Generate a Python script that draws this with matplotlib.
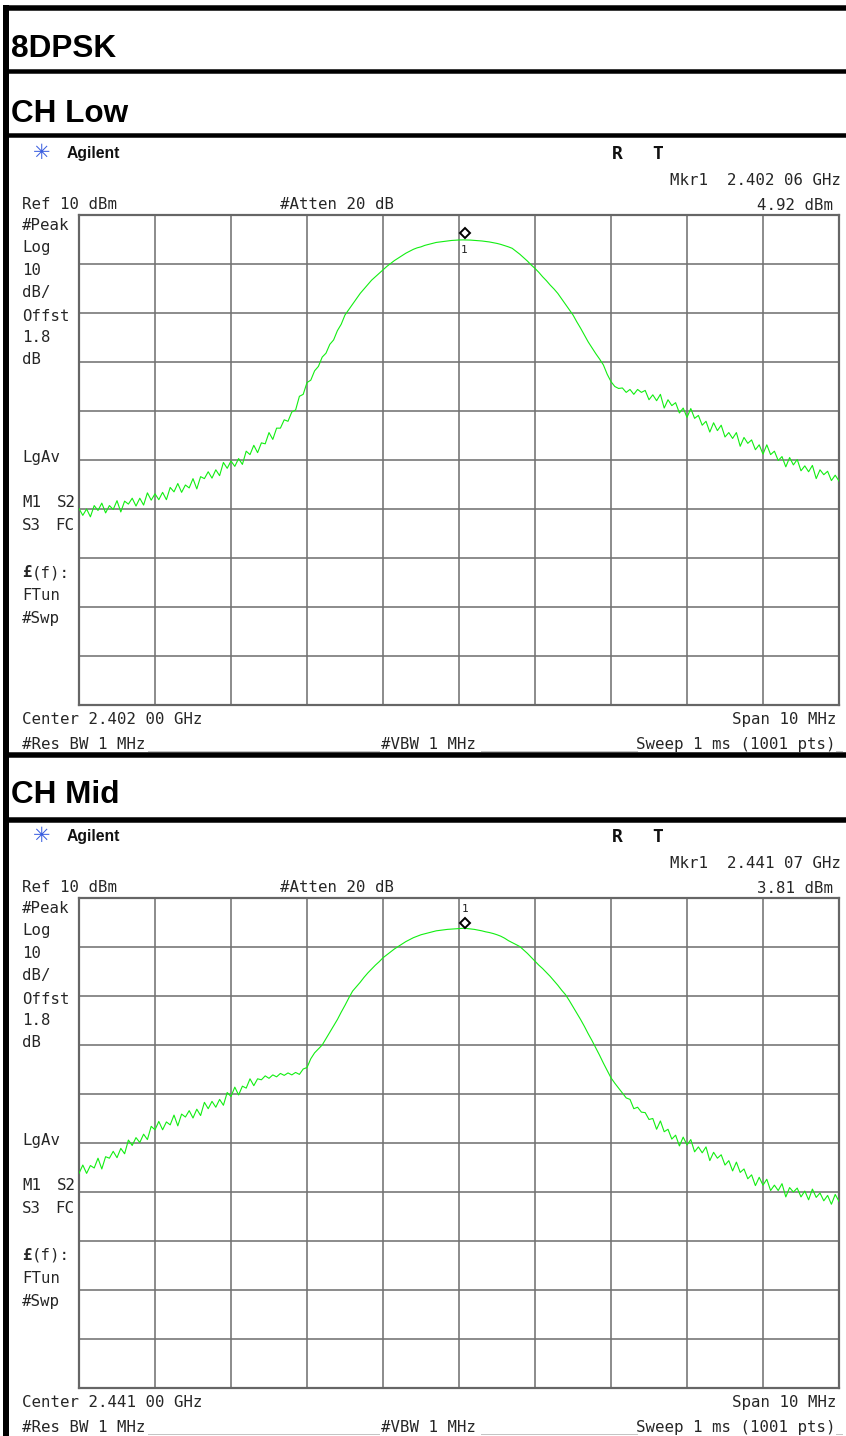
import numpy as np
import matplotlib
matplotlib.use("Agg")
import matplotlib.pyplot as plt
import matplotlib.transforms as mtransforms

# ---------------- data ----------------
title_text = "8DPSK"
section_titles = ["CH Low", "CH Mid"]
center_ghz = [2.402, 2.441]
span_ghz = 0.010
ref_level_dbm = 10
db_per_div = 10
n_points = 201

marker_freq_ghz = [2.40206, 2.44107]
marker_level_dbm = [4.92, 3.81]
marker_freq_labels = ["Mkr1  2.402 06 GHz", "Mkr1  2.441 07 GHz"]
marker_level_labels = ["4.92 dBm", "3.81 dBm"]
center_labels = ["Center 2.402 00 GHz", "Center 2.441 00 GHz"]

trace_low_dbm = [
    -49.9, -51.3, -50.0, -51.6, -49.3, -50.3, -48.8, -50.8, -49.3, -50.1,
    -48.3, -50.6, -48.4, -49.0, -47.8, -49.4, -47.8, -49.2, -46.7, -48.2,
    -46.9, -48.1, -46.6, -48.1, -45.6, -46.5, -44.8, -46.6, -45.1, -45.7,
    -43.8, -45.9, -43.4, -43.8, -42.4, -43.7, -42.0, -43.2, -40.5, -41.7,
    -40.2,
    -41.3, -39.7, -40.9, -38.2, -38.9, -37.0, -38.5, -36.5, -36.7, -34.4,
    -35.8, -33.5, -33.5, -31.8, -32.1, -30.2, -29.8, -27.0, -26.6, -24.2,
    -23.7, -21.8, -20.9, -19.0, -18.2, -16.4, -15.5, -13.6, -12.3, -10.4,
    -9.3, -8.2, -7.1, -6.0, -5.1, -4.2, -3.3, -2.6, -1.9, -1.2,
    -0.5, 0.1, 0.7, 1.2, 1.7, 2.2, 2.6, 3.0, 3.3, 3.5,
    3.8, 4.0, 4.2, 4.4, 4.5, 4.6, 4.7, 4.8, 4.85, 4.9,
    4.92, 4.9, 4.88, 4.82, 4.76, 4.7, 4.6, 4.5, 4.35, 4.2,
    4.0, 3.75, 3.5, 3.2, 2.6, 2.0, 1.3, 0.6, -0.2, -0.9,
    -1.7, -2.6, -3.4, -4.3, -5.1, -6.0, -7.1, -8.2, -9.3, -10.4,
    -11.8, -13.1, -14.5, -15.9, -17.1, -18.3, -19.4, -20.6, -22.5, -24.0,
    -25.0, -25.4,
    -25.3, -26.2, -25.6, -26.6, -25.6, -26.2, -25.8,
    -27.7, -26.7, -27.9, -26.6, -29.4, -27.7, -28.9, -28.3, -30.4, -29.4,
    -31.3, -29.5, -31.5, -30.9, -32.9, -32.1, -34.3, -32.4, -34.0, -32.9,
    -35.3, -34.4, -35.6, -34.4, -37.2, -35.4, -36.6, -35.9, -37.9, -36.9,
    -38.8, -36.9, -38.9, -38.2, -40.1, -39.3, -41.4, -39.5, -41.0, -39.9,
    -42.2, -41.2, -42.4, -41.1, -43.8, -42.0, -43.0, -42.3, -44.2, -43.1,
    -44.3,
]

trace_mid_dbm = [
    -46.2, -44.5, -46.2, -44.6, -45.1, -43.1, -45.3, -42.8, -43.1, -41.7,
    -43.0, -41.1, -42.2, -39.4, -40.5, -38.9, -39.9, -38.2, -39.3, -36.6,
    -37.3, -35.6, -37.3, -35.7, -36.3, -34.3, -36.5, -34.1, -34.7, -33.4,
    -34.9, -33.1, -34.4, -31.7, -33.0, -31.5, -32.7, -31.1, -32.3, -29.7,
    -30.5, -28.6, -30.2, -28.4, -28.8, -26.9, -28.3, -26.9, -27.1, -26.3,
    -26.8, -26.1, -26.5, -25.8, -26.2, -25.7, -26.1, -25.6, -26.0, -24.9,
    -24.6,
    -22.8, -21.6, -20.8, -20.0, -18.7, -17.4, -16.1, -14.8, -13.3, -11.9,
    -10.4, -9.0, -8.1, -7.2, -6.2, -5.3, -4.5, -3.7, -3.0, -2.2,
    -1.6, -1.0, -0.4, 0.1, 0.6, 1.1, 1.5, 1.9, 2.2, 2.5,
    2.7, 2.9, 3.1, 3.3, 3.4, 3.5, 3.6, 3.65, 3.7, 3.75,
    3.81, 3.78, 3.7, 3.6, 3.45, 3.3, 3.1, 2.95, 2.75, 2.5,
    2.2, 1.8, 1.3, 0.9, 0.5, 0.1, -0.6, -1.3, -2.1, -2.9,
    -3.7, -4.4, -5.2, -6.0, -6.9, -7.8, -8.8, -9.7, -10.9, -12.2,
    -13.5, -14.8, -16.2, -17.7, -19.1, -20.6, -22.1, -23.7, -25.2, -26.7,
    -27.8, -28.8, -29.8, -30.8,
    -31.1, -33.0, -32.7, -33.7, -33.8, -35.2,
    -35.0, -37.2, -35.5, -37.7, -37.2, -39.2, -38.4, -40.6, -38.8, -40.4,
    -39.3, -41.8, -40.8, -42.0, -40.8, -43.6, -41.9, -43.1, -42.4, -44.5,
    -43.6, -45.7, -43.9, -46.0, -45.3, -47.3, -46.5, -48.7, -47.0, -48.6,
    -47.4, -49.7, -48.6, -49.7, -48.3, -51.0, -49.1, -50.0, -49.2, -51.0,
    -49.8, -51.6, -49.4, -51.1, -50.2, -51.8, -50.7, -52.5, -50.5, -51.9,
]

traces = [trace_low_dbm, trace_mid_dbm]

left_labels = [("#Peak", 230), ("Log", 252), ("10", 275), ("dB/", 297),
               ("Offst", 321), ("1.8", 342), ("dB", 364), ("LgAv", 462),
               ("FTun", 600), ("#Swp", 623)]

# ---------------- figure ----------------
W, H = 846, 1436
DPI = 100
fig = plt.figure(figsize=(W / DPI, H / DPI), dpi=DPI)
fig.patch.set_facecolor("white")

bg = fig.add_axes([0, 0, 1, 1], zorder=0)
bg.set_xlim(0, W)
bg.set_ylim(H, 0)
bg.axis("off")

PT = 72.0 / DPI  # points per pixel

# black frame / separators
bg.plot([6, 6], [5, H], color="black", lw=6 * PT, solid_capstyle="butt")
for yy, lw in [(7.5, 5.5), (71, 4.5), (135, 4.5), (754.5, 5.5), (819.5, 5.5)]:
    bg.plot([3, W], [yy, yy], color="black", lw=lw * PT, solid_capstyle="butt")

head_font = dict(fontfamily="Liberation Sans", fontweight="bold",
                 fontsize=22.7, color="black", va="baseline")
bg.text(11, 57, title_text, **head_font)
bg.text(11, 122, section_titles[0], **head_font)
bg.text(11, 803, section_titles[1], **head_font)

MONO = dict(fontfamily="DejaVu Sans Mono", fontsize=11.3, color="#262626",
            va="baseline")

GRID_X0, GRID_X1 = 79, 839
GRID_H = 490
panel_tops = [215, 898]
grid_color = "#727272"

for k, top in enumerate(panel_tops):
    off = top - 215
    # header info
    bg.text(42, 153 + off, "\u2733", fontfamily="DejaVu Sans", fontsize=15,
            color="#3a5ee0", ha="center", va="center")
    bg.text(67, 158 + off, "Agilent", fontfamily="Liberation Sans",
            fontweight="bold", fontsize=11.3, color="#111111", va="baseline")
    bg.text(612, 159 + off, "R", fontfamily="DejaVu Sans Mono",
            fontweight="bold", fontsize=13, color="#111111", va="baseline")
    bg.text(652, 159 + off, "T", fontfamily="DejaVu Sans Mono",
            fontweight="bold", fontsize=13, color="#111111", va="baseline")
    bg.text(841, 185 + off, marker_freq_labels[k], ha="right", **MONO)
    bg.text(833, 210 + off, marker_level_labels[k], ha="right", **MONO)
    bg.text(22, 209 + off, "Ref %d dBm" % ref_level_dbm, **MONO)
    bg.text(280, 209 + off, "#Atten 20 dB", **MONO)
    # side labels
    for s, yy in left_labels:
        bg.text(22, yy + off, s, **MONO)
    bg.text(22, 507 + off, "M1", **MONO)
    bg.text(57, 507 + off, "S2", **MONO)
    bg.text(22, 530 + off, "S3", **MONO)
    bg.text(55, 530 + off, "FC", **MONO)
    bg.text(22, 577 + off, "\u00a3", fontfamily="DejaVu Sans Mono",
            fontweight="bold", fontsize=11.3, color="#262626", va="baseline")
    bg.text(32, 577 + off, "(f):", **MONO)
    # footer
    bg.text(22, 724 + off, center_labels[k], **MONO)
    bg.text(836, 724 + off, "Span 10 MHz", ha="right", **MONO)
    bg.text(22, 749 + off, "#Res BW 1 MHz", **MONO)
    bg.text(381, 749 + off, "#VBW 1 MHz", **MONO)
    bg.text(836, 749 + off, "Sweep 1 ms (1001 pts)", ha="right", **MONO)
    for xa, xb in [(148, 379), (481, 637), (836, 842)]:
        bg.plot([xa, xb], [750.5 + off, 750.5 + off], color="#c4c4c4",
                lw=1 * PT)

    # spectrum axes
    ax = fig.add_axes([GRID_X0 / W, 1 - (top + GRID_H) / H,
                       (GRID_X1 - GRID_X0) / W, GRID_H / H], zorder=2)
    f0 = center_ghz[k] - span_ghz / 2
    f1 = center_ghz[k] + span_ghz / 2
    freqs = np.linspace(f0, f1, n_points)
    ax.set_xlim(f0, f1)
    ax.set_ylim(ref_level_dbm - 10 * db_per_div, ref_level_dbm)
    ax.set_xticks(np.linspace(f0, f1, 11))
    ax.set_yticks(np.arange(ref_level_dbm - 10 * db_per_div,
                            ref_level_dbm + 1, db_per_div))
    ax.grid(True, color=grid_color, lw=1.6 * PT)
    ax.tick_params(length=0, labelbottom=False, labelleft=False)
    for sp in ax.spines.values():
        sp.set_color("#666666")
        sp.set_linewidth(2.2 * PT)
    ax.set_axisbelow(True)
    ax.plot(freqs, traces[k], color="#12ee12", lw=0.8, zorder=3)

    # marker
    up = 7 if k == 0 else 5
    tr_d = mtransforms.offset_copy(ax.transData, fig=fig, x=1, y=up,
                                   units="dots")
    ax.plot([marker_freq_ghz[k]], [marker_level_dbm[k]], marker="D",
            markersize=5.2, markerfacecolor="white", markeredgecolor="black",
            markeredgewidth=1.4, transform=tr_d, zorder=5, clip_on=False)
    lab_dy = -10 if k == 0 else 19
    tr_l = mtransforms.offset_copy(ax.transData, fig=fig, x=1, y=lab_dy,
                                   units="dots")
    ax.text(marker_freq_ghz[k], marker_level_dbm[k], "1", transform=tr_l,
            fontfamily="DejaVu Sans Mono", fontsize=8, color="#222222",
            ha="center", va="center", zorder=5, clip_on=False)

fig.savefig("out.png", dpi=DPI, facecolor="white")
